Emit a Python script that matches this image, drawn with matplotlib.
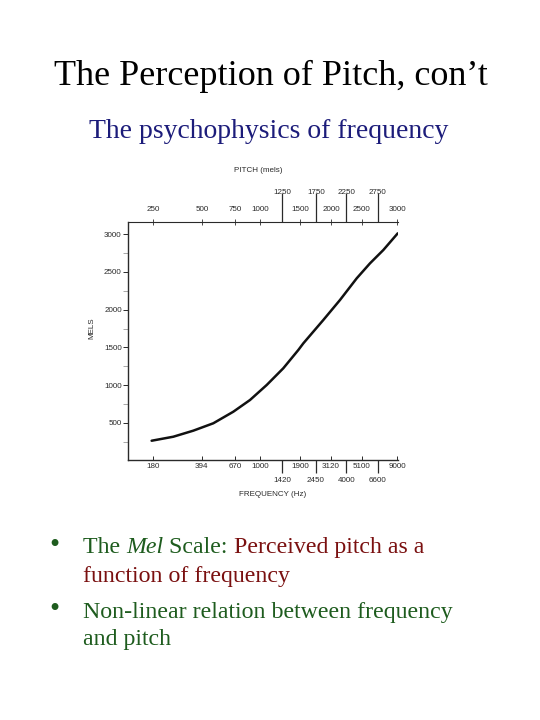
import numpy as np
import matplotlib.pyplot as plt
from matplotlib.ticker import FixedLocator, NullFormatter

# curve: frequency (Hz) vs pitch (mels)
FREQ = [176, 249, 343, 473, 652, 852, 1114, 1453, 1849, 2003, 2760, 3607,
        4716, 5834, 7223, 9100]
MELS = [265, 318, 398, 496, 649, 804, 1003, 1224, 1466, 1554, 1863, 2128,
        2415, 2613, 2789, 3010]

# bottom axis labels (two staggered rows)
FREQ_ROW1 = [180, 394, 670, 1000, 1900, 3120, 5100, 9000]
FREQ_ROW2 = [1420, 2450, 4000, 6600]
# top axis labels (pitch at the same positions)
MEL_ROW1 = [250, 500, 750, 1000, 1500, 2000, 2500, 3000]
MEL_ROW2 = [1250, 1750, 2250, 2750]

Y_MAJOR = [500, 1000, 1500, 2000, 2500, 3000]
Y_MINOR = [250, 750, 1250, 1750, 2250, 2750]

SERIF = 'Liberation Serif'
SANS = 'Liberation Sans'
INK = '#2a2a2a'

fig = plt.figure(figsize=(5.4, 7.2), dpi=100)
W, H = 540.0, 720.0

ax = fig.add_axes([128 / W, 1 - 460 / H, 270 / W, 238 / H])
ax.set_xscale('log')
ax.plot(FREQ, MELS, color='#111111', lw=1.8, solid_capstyle='round',
        solid_joinstyle='round')
ax.set_xlim(120.5, 9140)
ax.set_ylim(10, 3160)

for s in ['right', 'top']:
    ax.spines[s].set_visible(False)
for s in ['left', 'bottom']:
    ax.spines[s].set_color(INK)
    ax.spines[s].set_linewidth(1.0)

ax.xaxis.set_major_locator(FixedLocator(FREQ_ROW1))
ax.set_xticklabels([str(v) for v in FREQ_ROW1])
ax.set_xticks(FREQ_ROW2, [str(v) for v in FREQ_ROW2], minor=True)
ax.tick_params(axis='x', which='major', direction='in', length=3, width=0.7,
               pad=2, colors=INK, labelsize=5.8)
ax.tick_params(axis='x', which='minor', direction='out', length=9.5, width=0.9,
               pad=3, colors=INK, labelsize=5.8)

ax.set_yticks(Y_MAJOR)
ax.set_yticks(Y_MINOR, minor=True)
ax.yaxis.set_minor_formatter(NullFormatter())
ax.tick_params(axis='y', which='major', direction='out', length=3.5, width=0.7,
               pad=1, colors=INK, labelsize=5.8)
ax.tick_params(axis='y', which='minor', direction='out', length=3.5, width=0.6,
               color='#999999')
for lbl in ax.get_xticklabels(which='both') + ax.get_yticklabels():
    lbl.set_family(SANS)

# top pitch axis
ax2 = ax.twiny()
ax2.set_xscale('log')
ax2.set_xlim(ax.get_xlim())
for s in ['right', 'bottom', 'left']:
    ax2.spines[s].set_visible(False)
ax2.spines['top'].set_color(INK)
ax2.xaxis.set_major_locator(FixedLocator(FREQ_ROW1))
ax2.set_xticklabels([str(v) for v in MEL_ROW1])
ax2.set_xticks(FREQ_ROW2, [str(v) for v in MEL_ROW2], minor=True)
ax2.tick_params(axis='x', which='major', direction='inout', length=4, width=0.6,
                pad=4.5, colors=INK, labelsize=5.8)
ax2.tick_params(axis='x', which='minor', direction='out', length=21, width=0.9,
                pad=-2.5, colors=INK, labelsize=5.8)
for lbl in ax2.get_xticklabels(which='both'):
    lbl.set_family(SANS)

# axis titles
fig.text(258 / W, 1 - 170 / H, 'PITCH (mels)', family=SANS, fontsize=5.8,
         color=INK, ha='center', va='center')
fig.text(273 / W, 1 - 494 / H, 'FREQUENCY (Hz)', family=SANS, fontsize=5.8,
         color=INK, ha='center', va='center')
fig.text(92 / W, 1 - 328 / H, 'MELS', family=SANS, fontsize=5.8, color=INK,
         ha='center', va='center', rotation=90)

# slide text
fig.text(271 / W, 1 - 76 / H, 'The Perception of Pitch, con\u2019t', family=SERIF,
         fontsize=26, color='black', ha='center', va='center')
fig.text(269 / W, 1 - 131 / H, 'The psychophysics of frequency', family=SERIF,
         fontsize=20, color='#1c1c7a', ha='center', va='center')

GREEN = '#1e5c1e'
RED = '#7a1010'
FS = 17.2

over = fig.add_axes([0, 0, 1, 1])
over.set_axis_off()


def run(pieces, x0, y):
    prev = None
    for txt, col, style in pieces:
        if prev is None:
            prev = over.text(x0 / W, 1 - y / H, txt, transform=fig.transFigure,
                             family=SERIF, fontsize=FS, color=col, style=style,
                             ha='left', va='baseline')
        else:
            prev = over.annotate(txt, xy=(1, 1 - y / H),
                                 xycoords=(prev, 'figure fraction'),
                                 family=SERIF, fontsize=FS, color=col,
                                 style=style, ha='left', va='baseline')


for yb in [553, 617]:
    fig.text(54 / W, 1 - yb / H, '\u2022', family=SERIF, fontsize=21,
             color=GREEN, ha='center', va='baseline')

run([('The ', GREEN, 'normal'), ('Mel', GREEN, 'italic'),
     (' Scale: ', GREEN, 'normal'), ('Perceived pitch as a', RED, 'normal')],
    83, 553)
run([('function of frequency', RED, 'normal')], 83, 582)
run([('Non-linear relation between frequency', GREEN, 'normal')], 83, 618)
run([('and pitch', GREEN, 'normal')], 83, 645)

fig.savefig('out.png', dpi=100)
